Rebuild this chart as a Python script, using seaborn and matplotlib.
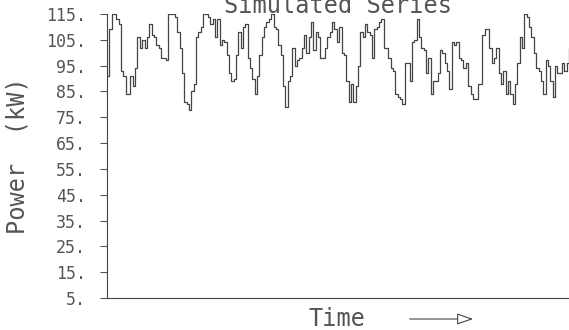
import numpy as np
import pandas as pd
import matplotlib
matplotlib.use("Agg")
import matplotlib.pyplot as plt
import seaborn as sns

# Simulated power series (kW)
power = [91, 109, 115, 115, 113, 111, 93, 91, 84, 84, 91, 87, 94, 106, 102, 105,
         102, 106, 111, 107, 106, 103, 102, 98,
         98, 97, 115, 115, 115, 114, 108, 102, 92, 81, 80, 78, 85, 88, 106, 108,
         110, 115, 115, 114, 111, 113, 106, 113, 103, 105,
         104, 99, 92, 89, 90, 99, 108, 102, 110, 111, 98, 94, 90, 84, 91, 99,
         106, 110, 112, 113, 115, 110, 109, 103, 99, 87,
         79, 89, 91, 102, 95, 97, 98, 102, 107, 100, 106, 112, 101, 108, 106,
         98, 98, 102, 106, 108, 112, 109, 104,
         110, 100, 99, 89, 81, 88, 81, 87, 95, 108, 106, 111, 108, 107, 98, 109,
         110, 112, 113, 102, 102, 98, 94, 93,
         84, 83, 82, 80, 96, 96, 89, 104, 105, 113, 106, 102, 101, 92, 98, 84,
         89, 89, 92, 101, 100, 96, 93, 86, 104,
         103, 104, 98, 97, 94, 96, 87, 84, 82, 82, 88, 88, 107, 109, 109, 102,
         96, 98, 102, 92, 88, 93, 84, 89, 84,
         80, 88, 96, 106, 102, 115, 114, 110, 106, 100, 94, 93, 89, 84, 97, 95,
         89, 83, 95, 92, 92, 96, 93, 96, 102]
yticks = list(range(5, 116, 10))
ytick_labels = [f"{v}." for v in yticks]

df = pd.DataFrame({"t": np.arange(len(power)), "power": power})

sns.set_style("white")
plt.rcParams["font.family"] = ["DejaVu Sans Mono", "DejaVu Sans"]
grey = "#555555"

fig = plt.figure(figsize=(5.69, 3.30), dpi=100)
ax = fig.add_axes([107 / 569, 1 - 298 / 330, 1 - 107 / 569, (298 - 14) / 330])

sns.lineplot(data=df, x="t", y="power", drawstyle="steps-post",
             color="#444444", linewidth=0.9, ax=ax)

ax.set_xlim(0, len(power) - 1)
ax.set_ylim(5, 115)
ax.set_yticks(yticks)
ax.set_yticklabels(ytick_labels)
ax.set_xticks([])
ax.tick_params(axis="y", direction="out", length=5, width=0.8, pad=10,
               colors=grey, labelsize=12, left=True)
for side in ["top", "right"]:
    ax.spines[side].set_visible(False)
for side in ["left", "bottom"]:
    ax.spines[side].set_color("#444444")
    ax.spines[side].set_linewidth(0.8)

ax.set_xlabel("")
ax.set_ylabel("")
fig.text(18 / 569, 1 - 156 / 330, "Power  (kW)", rotation=90, ha="center",
         va="center", fontsize=17, color=grey)
fig.text(337 / 569, 1 - 319 / 330, "Time", ha="center", va="center",
         fontsize=17, color=grey)
fig.text(338 / 569, 1 - 13 / 330, "Simulated Series", ha="center",
         va="baseline", fontsize=17, color=grey)

# arrow after "Time"
ax.annotate("", xy=(476 / 569, 1 - 319 / 330), xytext=(407 / 569, 1 - 319 / 330),
            xycoords="figure fraction", textcoords="figure fraction",
            arrowprops=dict(arrowstyle="-|>,head_length=1.0,head_width=0.35",
                            color="#444444", fc="white", lw=0.8))

fig.savefig("out.png", dpi=100)
